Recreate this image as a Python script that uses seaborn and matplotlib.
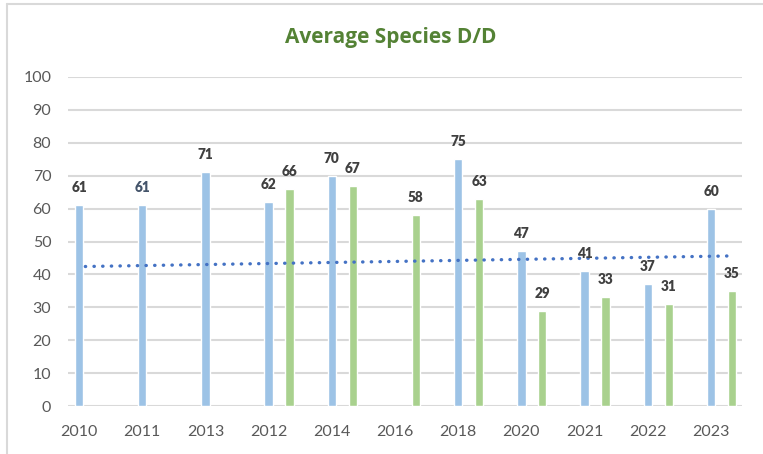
import numpy as np
import pandas as pd
import matplotlib
matplotlib.use("Agg")
import matplotlib.pyplot as plt
import seaborn as sns
from matplotlib.lines import Line2D

# ---- data ----
categories = ["2010", "2011", "2013", "2012", "2014", "2016", "2018", "2020", "2021", "2022", "2023"]
blue_values = [61, 61, 71, 62, 70, np.nan, 75, 47, 41, 37, 60]
green_values = [np.nan, np.nan, np.nan, 66, 67, 58, 63, 29, 33, 31, 35]
trend_values = [42.4, 45.6]  # linear trendline start / end
title = "Average Species D/D"

sns.set_theme(style="white")
plt.rcParams["font.family"] = ["Lato", "DejaVu Sans"]

W, H = 763, 454
fig = plt.figure(figsize=(W / 100, H / 100), dpi=100)
px_l, px_r, px_t, px_b = 68, 742, 77, 406
ax = fig.add_axes([px_l / W, 1 - px_b / H, (px_r - px_l) / W, (px_b - px_t) / H])

idx = np.arange(len(categories))
green_off = 0.332
df_b = pd.DataFrame({"x": idx, "y": blue_values}).dropna()
df_g = pd.DataFrame({"x": idx + green_off, "y": green_values}).dropna()

bar_w = 0.13
sns.barplot(data=df_b, x="x", y="y", native_scale=True, width=bar_w,
            color="#9DC3E6", saturation=1, ax=ax, zorder=3, errorbar=None)
sns.barplot(data=df_g, x="x", y="y", native_scale=True, width=bar_w,
            color="#A9D18E", saturation=1, ax=ax, zorder=3, errorbar=None)

# trendline
tx = [0.1, 10.27]
sns.lineplot(x=tx, y=trend_values, ax=ax, color="#4472C4", lw=2.4,
             linestyle=(0, (0.1, 2.5)), dash_capstyle="round", zorder=4)
for l in ax.get_lines():
    l.set_dash_capstyle("round")

# labels
lab_col = "#404040"
for x, v in zip(df_b["x"], df_b["y"]):
    col = "#44546A" if x == 1 else lab_col
    ax.annotate(f"{int(v)}", (x, v), xytext=(0, 11), textcoords="offset pixels",
                ha="center", va="bottom", fontsize=9.8, fontweight="heavy", color=col, zorder=5)
for x, v in zip(df_g["x"], df_g["y"]):
    ax.annotate(f"{int(v)}", (x, v), xytext=(0, 11), textcoords="offset pixels",
                ha="center", va="bottom", fontsize=9.8, fontweight="heavy", color=lab_col, zorder=5)

ax.set_xlim((px_l - 79) / 63.2, (px_r - 79) / 63.2)
ax.set_ylim(0, 100)
ax.set_yticks(range(0, 101, 10))
ax.set_xticks(idx)
ax.set_xticklabels(categories)
ax.yaxis.grid(True, color="#D9D9D9", lw=1.5, zorder=0)
ax.xaxis.grid(False)
for s in ax.spines.values():
    s.set_visible(False)
ax.tick_params(axis="y", length=0, pad=12, labelsize=11.5, labelcolor="#595959")
ax.tick_params(axis="x", length=0, pad=14, labelsize=11.5, labelcolor="#595959")
ax.set_xlabel("")
ax.set_ylabel("")

fig.text(391 / W, 1 - 37 / H, title, ha="center", va="center", fontsize=15,
         fontweight="bold", color="#548235", family=["Open Sans", "DejaVu Sans"])

# chart border (top and left)
fig.add_artist(Line2D([7 / W, 1], [1 - 4 / H, 1 - 4 / H], transform=fig.transFigure,
                      color="#D9D9D9", lw=1.5))
fig.add_artist(Line2D([7 / W, 7 / W], [0, 1 - 4 / H], transform=fig.transFigure,
                      color="#D9D9D9", lw=1.5))

fig.savefig("out.png", dpi=100)
